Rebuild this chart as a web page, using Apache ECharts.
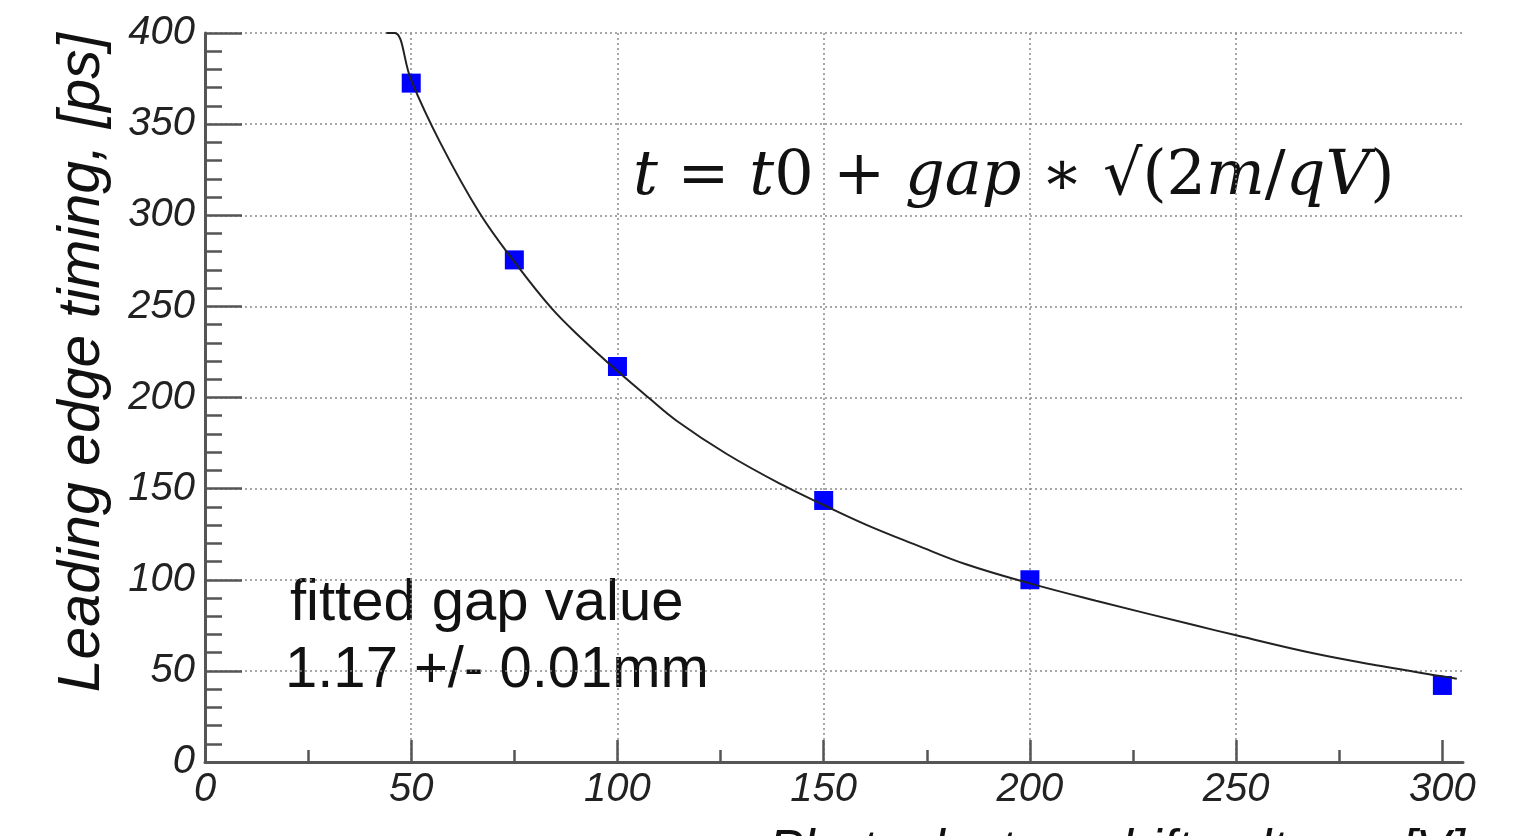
<!DOCTYPE html>
<html>
<head>
<meta charset="utf-8">
<script src="https://cdn.jsdelivr.net/npm/echarts@6.0.0/dist/echarts.min.js"></script>
<style>
  html, body { margin: 0; padding: 0; background: #fff; overflow: hidden; }
  #chart { width: 1521px; height: 900px; }
</style>
</head>
<body>
<div id="chart"></div>
<script>
// measured points
const voltages = [50, 75, 100, 150, 200, 300];
const timings = [372.5, 275.5, 217, 143.5, 100, 42];

// fitted curve
const fitVoltages = [44, 46, 50, 57, 66.5, 75, 84, 91.5, 100, 107.5, 114.5, 126.5, 140, 150, 160.5, 172.5, 184.5, 200, 216, 240, 250, 269, 285.5, 300, 303.5];
const fitTimings = [400, 400, 374, 340, 301.5, 274.5, 249, 232, 214.5, 200, 187, 169, 152, 141, 130, 119, 108.5, 98, 88.5, 75, 69.5, 59.5, 52.5, 47, 45.7];

const xTicks = [0, 50, 100, 150, 200, 250, 300];
const xMinorTicks = [25, 75, 125, 175, 225, 275];

const axisColor = '#555';
const gridColor = '#8a8a8a';
const labelStyle = {
  fontFamily: 'Liberation Sans',
  fontStyle: 'italic',
  fontSize: 40,
  color: '#222'
};

const initChart = () => {
  let element = document.getElementById('chart');
  let myChart = echarts.init(element, null, { renderer: 'canvas' });
  let option;
  option = {
    animation: false,
    grid: {
      left: 205,
      right: 58,
      top: 33,
      bottom: 138,
      containLabel: false,
      outerBoundsMode: 'none'
    },
    xAxis: [{
      type: 'value',
      min: 0,
      max: 305,
      interval: 50,
      name: 'Photoelectron drift voltage, [V]',
      nameLocation: 'end',
      nameGap: 2,
      nameTextStyle: {
        fontFamily: 'Liberation Sans',
        fontStyle: 'italic',
        fontSize: 52,
        color: '#111',
        align: 'right',
        verticalAlign: 'top',
        padding: [64, 0, 0, 0]
      },
      axisLine: { show: true, onZero: false, lineStyle: { color: axisColor, width: 3 } },
      axisTick: { show: true, inside: true, length: 22, customValues: xTicks, lineStyle: { color: axisColor, width: 2.5 } },
      axisLabel: Object.assign({ margin: 8, customValues: xTicks }, labelStyle),
      splitLine: { show: true, showMaxLine: false, lineStyle: { color: gridColor, type: [2, 3], width: 1.5 } }
    }, {
      type: 'value',
      min: 0,
      max: 305,
      position: 'bottom',
      axisLine: { show: false },
      axisTick: { show: true, inside: true, length: 12, customValues: xMinorTicks, lineStyle: { color: axisColor, width: 2.5 } },
      axisLabel: { show: false },
      splitLine: { show: false }
    }],
    yAxis: {
      type: 'value',
      min: 0,
      max: 400,
      interval: 50,
      name: 'Leading edge timing, [ps]',
      nameLocation: 'end',
      nameGap: 0,
      nameRotate: 90,
      nameTextStyle: {
        fontFamily: 'Liberation Sans',
        fontStyle: 'italic',
        fontSize: 59,
        color: '#111',
        align: 'right',
        verticalAlign: 'bottom',
        padding: [0, 0, 93, 0]
      },
      axisLine: { show: true, onZero: false, lineStyle: { color: axisColor, width: 3 } },
      axisTick: { show: true, inside: true, length: 37, lineStyle: { color: axisColor, width: 2.5 } },
      minorTick: { show: true, splitNumber: 5, length: 17, lineStyle: { color: axisColor, width: 2.5 } },
      axisLabel: Object.assign({ margin: 10 }, labelStyle),
      splitLine: { show: true, showMinLine: false, lineStyle: { color: gridColor, type: [2, 3], width: 1.5 } }
    },
    graphic: [{
      type: 'text',
      left: 633,
      top: 147,
      style: {
        text: '{i|t} = {i|t}0 + {i|gap} ∗ √(2{i|m}/{i|qV})',
        font: '62px "DejaVu Serif"',
        fill: '#111',
        rich: {
          i: { fontFamily: 'DejaVu Serif', fontStyle: 'italic', fontSize: 62, fill: '#111' }
        }
      }
    }, {
      type: 'text',
      left: 290,
      top: 575,
      style: {
        text: 'fitted gap value',
        font: '58px "Liberation Sans"',
        fill: '#111'
      }
    }, {
      type: 'text',
      left: 285,
      top: 642,
      style: {
        text: '1.17 +/- 0.01mm',
        font: '58px "Liberation Sans"',
        fill: '#111'
      }
    }],
    series: [{
      type: 'scatter',
      symbol: 'rect',
      symbolSize: 19,
      itemStyle: { color: '#0000ff', opacity: 1 },
      data: voltages.map((v, i) => [v, timings[i]]),
      z: 2
    }, {
      type: 'line',
      smooth: 0.4,
      showSymbol: false,
      lineStyle: { color: '#222', width: 2 },
      data: fitVoltages.map((v, i) => [v, fitTimings[i]]),
      z: 3
    }]
  };

  option && myChart.setOption(option);
};

initChart();
</script>
</body>
</html>
